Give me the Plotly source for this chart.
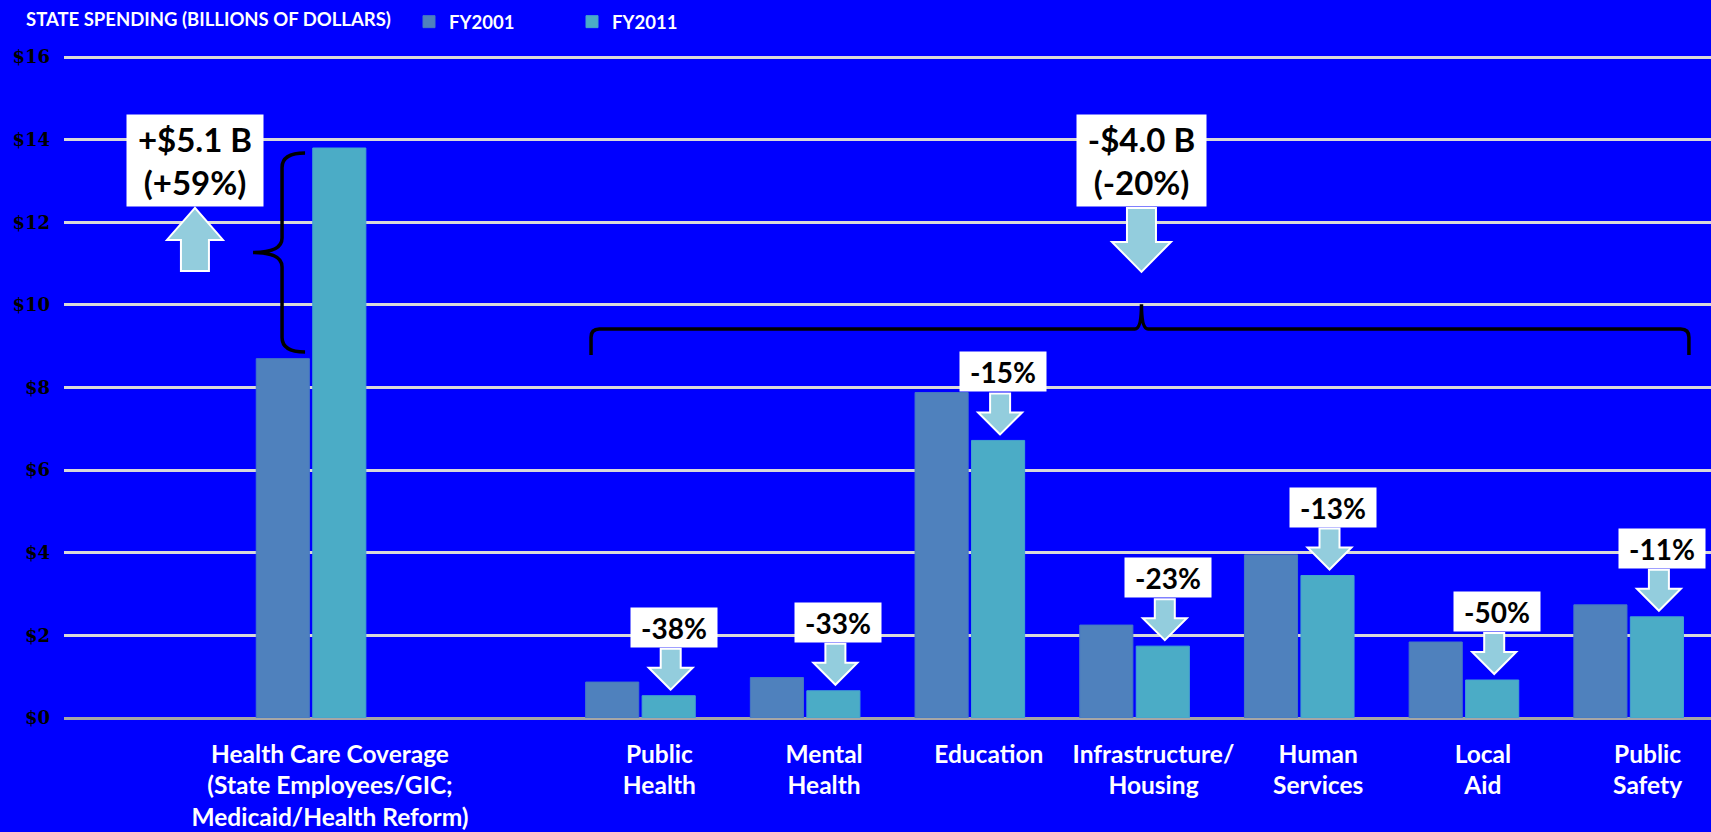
import plotly.graph_objects as go

# State spending by category, billions of dollars
categories = [
    "Health Care Coverage<br>(State Employees/GIC;<br>Medicaid/Health Reform)",
    "Public<br>Health",
    "Mental<br>Health",
    "Education",
    "Infrastructure/<br>Housing",
    "Human<br>Services",
    "Local<br>Aid",
    "Public<br>Safety",
]
fy2001 = [8.70, 0.87, 0.98, 7.88, 2.25, 3.95, 1.84, 2.74]
fy2011 = [13.80, 0.54, 0.66, 6.72, 1.74, 3.45, 0.92, 2.45]
series_names = ["FY2001", "FY2011"]
y_tick_values = [0, 2, 4, 6, 8, 10, 12, 14, 16]
y_tick_labels = ["$0", "$2", "$4", "$6", "$8", "$10", "$12", "$14", "$16"]
legend_title = "STATE SPENDING (BILLIONS OF DOLLARS)"

# ---- page geometry ----
W, H = 1711, 832
M_L, M_R, M_T, M_B = 64, 0, 53, 114
PLOT_W, PLOT_H = W - M_L - M_R, H - M_T - M_B
Y_MAX = 16.1
X_RANGE = [-0.5, 9.5]
BARGAP = 0.314
BARGROUPGAP = 0.06
LABEL_NUDGE = 0.115  # category labels sit slightly right of the group centre

BG = "#0000FF"
C2001 = "#4F81BD"
C2011 = "#4BACC6"
ARROW_FILL = "#93CDDD"
FONT = "Lato"

# health care sits in slot 1, a blank slot separates it from the other categories
slots = [1] + [3 + i for i in range(len(categories) - 1)]
offset_2011 = (1 - BARGAP) / 4  # centre of the second bar in each group

fig = go.Figure()
fig.add_trace(go.Bar(
    x=slots, y=fy2001, name=series_names[0],
    marker=dict(color=C2001, line=dict(color="#4678C4", width=1)),
))
fig.add_trace(go.Bar(
    x=slots, y=fy2011, name=series_names[1],
    marker=dict(color=C2011, line=dict(color="#45A3D0", width=1)),
))


def arrow_path(cx, y_tip, head_h, shaft_h, head_hw, shaft_hw, up):
    """Block arrow in pixel offsets (y positive upward)."""
    s = 1 if up else -1
    yb = y_tip - s * head_h           # base of the head
    ye = yb - s * shaft_h             # end of the shaft
    pts = [
        (cx, y_tip), (cx - head_hw, yb), (cx - shaft_hw, yb), (cx - shaft_hw, ye),
        (cx + shaft_hw, ye), (cx + shaft_hw, yb), (cx + head_hw, yb),
    ]
    return "M" + " L".join(f"{x:.1f},{y:.1f}" for x, y in pts) + " Z"


shapes = []
annotations = []

# ---- per-category change boxes with down arrows (all except health care) ----
for i in range(1, len(categories)):
    a, b = fy2001[i], fy2011[i]
    pct = round((b - a) / a * 100)
    xc = slots[i] + offset_2011
    annotations.append(dict(
        x=xc, y=b, xref="x", yref="y", xanchor="center", yanchor="bottom",
        xshift=5, yshift=48, showarrow=False,
        text=("+" if pct >= 0 else "-") + f"{abs(pct)}%",
        font=dict(family=FONT, size=28, color="black", weight="bold"),
        bgcolor="white", borderpad=2.5, width=81, height=34,
    ))
    shapes.append(dict(
        type="path", xref="x", yref="y", xsizemode="pixel", ysizemode="pixel",
        xanchor=xc, yanchor=b,
        path=arrow_path(2, 6, 22, 19, 22, 10, up=False),
        fillcolor=ARROW_FILL, line=dict(color="white", width=2), layer="above",
    ))

# ---- totals ----
hc_diff = fy2011[0] - fy2001[0]
hc_pct = round(hc_diff / fy2001[0] * 100)
rest01 = sum(fy2001[1:])
rest11 = sum(fy2011[1:])
rest_diff = rest11 - rest01
rest_pct = round(rest_diff / rest01 * 100)

BOX_Y = 13.5
HC_BOX_X = 0.295
REST_BOX_X = 6.042


def money(v):
    return ("+" if v >= 0 else "-") + f"${abs(v):.1f} B"


def pct_txt(p):
    return ("+" if p >= 0 else "-") + f"{abs(p)}%"


for bx, txt, up in [
    (HC_BOX_X, f"{money(hc_diff)}<br>({pct_txt(hc_pct)})", True),
    (REST_BOX_X, f"{money(rest_diff)}<br>({pct_txt(rest_pct)})", False),
]:
    annotations.append(dict(
        x=bx, y=BOX_Y, xref="x", yref="y", xanchor="center", yanchor="middle",
        showarrow=False, text=txt,
        font=dict(family=FONT, size=33, color="black", weight="bold"),
        bgcolor="white", borderpad=3, width=(130 if up else 123), height=85,
    ))
    if up:
        p = arrow_path(0, -47.5, 32, 31, 28, 14, up=True)
    else:
        p = arrow_path(0, -111.5, 30, 34, 29.5, 14.5, up=False)
    shapes.append(dict(
        type="path", xref="x", yref="y", xsizemode="pixel", ysizemode="pixel",
        xanchor=bx, yanchor=BOX_Y, path=p,
        fillcolor=ARROW_FILL, line=dict(color="white", width=2), layer="above",
    ))

# ---- curly brace spanning the health care increase ----
top = fy2011[0] - 0.12
bot = fy2001[0] + 0.16
mid = (top + bot) / 2
r = 0.35
xl, xe, xt = -29, -6, -58
brace_v = (
    f"M{xe},{top:.3f} Q{xl},{top:.3f} {xl},{top - r:.3f} "
    f"L{xl},{mid + r:.3f} Q{xl},{mid:.3f} {xt},{mid:.3f} "
    f"Q{xl},{mid:.3f} {xl},{mid - r:.3f} "
    f"L{xl},{bot + r:.3f} Q{xl},{bot:.3f} {xe},{bot:.3f}"
)
shapes.append(dict(
    type="path", xref="x", yref="y", xsizemode="pixel", ysizemode="scaled",
    xanchor=slots[0], path=brace_v, line=dict(color="black", width=3.5),
))

# ---- curly brace over the other categories ----
bl, br, bc = 2.70, 9.366, REST_BOX_X
yh, ye, yt = 9.42, 8.79, 10.02
rx, rc = 0.05, 0.04
brace_h = (
    f"M{bl:.3f},{ye} L{bl:.3f},{yh - 0.2:.3f} Q{bl:.3f},{yh} {bl + rx:.3f},{yh} "
    f"L{bc - rc:.3f},{yh} Q{bc:.3f},{yh} {bc:.3f},{yt} "
    f"Q{bc:.3f},{yh} {bc + rc:.3f},{yh} "
    f"L{br - rx:.3f},{yh} Q{br:.3f},{yh} {br:.3f},{yh - 0.2:.3f} L{br:.3f},{ye}"
)
shapes.append(dict(
    type="path", xref="x", yref="y", path=brace_h,
    line=dict(color="black", width=3.5),
))

# ---- header text to the left of the legend ----
annotations.append(dict(
    x=(24 - M_L) / PLOT_W, y=1 + (M_T - 19) / PLOT_H, xref="paper", yref="paper",
    xanchor="left", yanchor="middle", showarrow=False, text=legend_title,
    font=dict(family=FONT, size=18.5, color="white", weight="bold"),
))

fig.update_layout(
    width=W, height=H, autosize=False,
    margin=dict(l=M_L, r=M_R, t=M_T, b=M_B, pad=0),
    paper_bgcolor=BG, plot_bgcolor=BG,
    barmode="group", bargap=BARGAP, bargroupgap=BARGROUPGAP,
    font=dict(family=FONT, color="white"),
    shapes=shapes, annotations=annotations,
    showlegend=True,
    legend=dict(
        orientation="h", x=(409 - M_L) / PLOT_W, xanchor="left", y=1.075, yanchor="top",
        bgcolor="rgba(0,0,0,0)", borderwidth=0,
        font=dict(family=FONT, size=18.5, color="white", weight="bold"),
        entrywidth=118, traceorder="normal",
    ),
    xaxis=dict(
        range=X_RANGE, tickmode="array",
        tickvals=[s + LABEL_NUDGE for s in slots], ticktext=categories,
        showgrid=False, zeroline=False, showline=False, ticks="",
        tickfont=dict(family=FONT, size=24.5, color="white", weight="bold"),
        ticklabelstandoff=19, fixedrange=True,
    ),
    yaxis=dict(
        range=[0, Y_MAX], tickmode="array", tickvals=y_tick_values, ticktext=y_tick_labels,
        showgrid=True, gridcolor="#D9D9D9", gridwidth=2.5,
        zeroline=True, zerolinecolor="#A6A6A6", zerolinewidth=3,
        showline=False, ticks="",
        tickfont=dict(family="DejaVu Serif", size=18, color="black", weight="bold"),
        ticklabelstandoff=13, fixedrange=True,
    ),
)

fig.write_html("out.html", config={"displayModeBar": False})
